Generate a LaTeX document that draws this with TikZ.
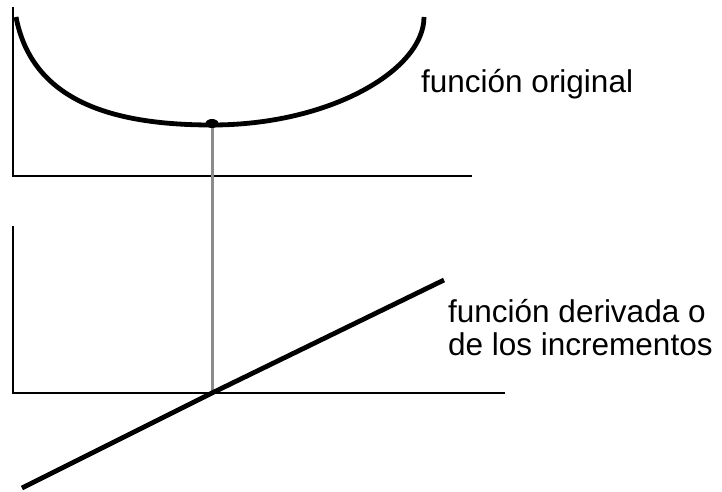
\documentclass[tikz,border=0pt]{standalone}
\usepackage{fontspec}
\setmainfont{Liberation Sans}
\usepackage{tikz}
\usepackage{xcolor}
\usetikzlibrary{positioning,calc,shapes.geometric}
\definecolor{ink}{HTML}{000000}
\definecolor{guide}{HTML}{8C8C8C}

\begin{document}
\begin{tikzpicture}[x=1pt,y=1pt,
    axis/.style={ink,line width=2.3pt},
    curve/.style={ink,line width=4.8pt},
    label/.style={font=\fontsize{31.5}{30}\selectfont,inner sep=0pt,anchor=base west,align=left}]
  \useasboundingbox (0,0) rectangle (722,491);
  % upper frame: original function
  \coordinate (topO) at (13,315);
  \draw[axis] (13,484) -- (topO) -- (472,315);
  \draw[curve] (16,474) .. controls (32,391) and (110,366) .. (212,366)
    .. controls (330,366) and (424,421) .. (424,474);
  \node[ellipse,fill=ink,minimum width=13pt,minimum height=9pt,inner sep=0pt] (minpt) at (212,367.5) {};
  \node[label] (orig) at (421,399) {función original};
  % lower frame: derivative
  \coordinate (botO) at (13,98);
  \coordinate (cross) at (212,98);
  \draw[axis] (13,265) -- (botO) -- (505,98);
  \draw[guide,line width=3pt] (minpt) -- (cross);
  \draw[curve] (22,3) -- (cross) -- (444,211);
  \node[label] (deriv) at (448,136) {función derivada o\\[2.5pt]de los incrementos};
\end{tikzpicture}
\end{document}
